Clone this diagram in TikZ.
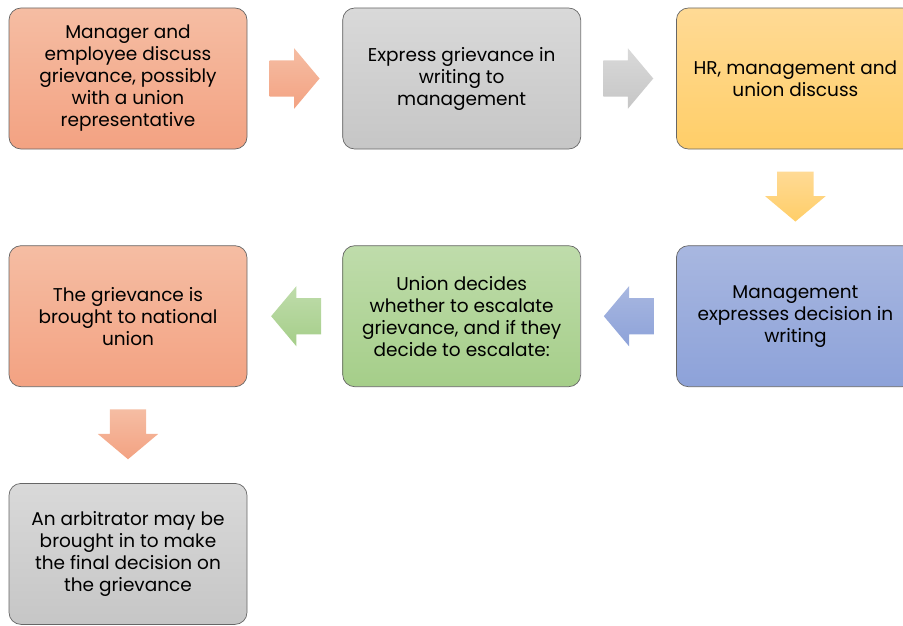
\documentclass[tikz,border=0pt]{standalone}
\usepackage{fontspec}
\setmainfont{Poppins}
\usetikzlibrary{positioning,shapes.arrows}

\definecolor{orangetop}{HTML}{F5BDA3}
\definecolor{orangebot}{HTML}{F3A282}
\definecolor{greytop}{HTML}{D9D9D9}
\definecolor{greybot}{HTML}{C6C6C6}
\definecolor{yellowtop}{HTML}{FFDA95}
\definecolor{yellowbot}{HTML}{FFCE68}
\definecolor{bluetop}{HTML}{A8B7E0}
\definecolor{bluebot}{HTML}{8DA2D9}
\definecolor{greentop}{HTML}{BFDCAB}
\definecolor{greenbot}{HTML}{A5CE89}

\begin{document}
\begin{tikzpicture}[x=1pt,y=1pt,
		stepbox/.style={rectangle,draw=black!60,line width=0.7pt,rounded corners=12pt,
			minimum width=238pt,minimum height=141pt,inner sep=0pt,align=center,
			font=\fontsize{18.5}{22}\selectfont},
		fatarrow/.style={single arrow,draw=none,inner xsep=0pt,inner ysep=18pt,minimum height=50pt,
			single arrow head extend=12pt,single arrow tip angle=100},
		downarrow/.style={fatarrow,shape border rotate=270,inner xsep=18pt,inner ysep=0pt}]
		\useasboundingbox (0,0) rectangle (903,-626);

		\node [stepbox,top color=orangetop,bottom color=orangebot] (talk) at (128,-78.5) {
			Manager and\\ employee discuss\\ grievance, possibly\\ with a union\\ representative};
		\node [stepbox,top color=greytop,bottom color=greybot] (write) [right=95pt of talk] {
			Express grievance in\\ writing to\\ management};
		\node [stepbox,top color=yellowtop,bottom color=yellowbot] (meet) [right=95pt of write] {
			HR, management and\\ union discuss};

		\node [stepbox,top color=bluetop,bottom color=bluebot] (decide) [below=96pt of meet] {
			Management\\ expresses decision in\\ writing};
		\node [stepbox,top color=greentop,bottom color=greenbot] (union) [left=95pt of decide] {
			Union decides\\ whether to escalate\\ grievance, and if they\\ decide to escalate:};
		\node [stepbox,top color=orangetop,bottom color=orangebot] (national) [left=95pt of union] {
			The grievance is\\ brought to national\\ union};

		\node [stepbox,top color=greytop,bottom color=greybot] (arbiter) [below=96pt of national] {
			An arbitrator may be\\ brought in to make\\ the final decision on\\ the grievance};

		% horizontal arrows
		\node [fatarrow,top color=orangetop,bottom color=orangebot] (talk-write) [right=22pt of talk] {};
		\node [fatarrow,top color=greytop,bottom color=greybot] (write-meet) [right=22pt of write] {};
		\node [fatarrow,shape border rotate=180,top color=bluetop,bottom color=bluebot] (decide-union) [left=22pt of decide] {};
		\node [fatarrow,shape border rotate=180,top color=greentop,bottom color=greenbot] (union-national) [left=21pt of union] {};

		% vertical arrows
		\node [downarrow,top color=yellowtop,bottom color=yellowbot] (meet-decide) [below=22pt of meet] {};
		\node [downarrow,top color=orangetop,bottom color=orangebot] (national-arbiter) [below=22pt of national] {};
	\end{tikzpicture}
\end{document}
